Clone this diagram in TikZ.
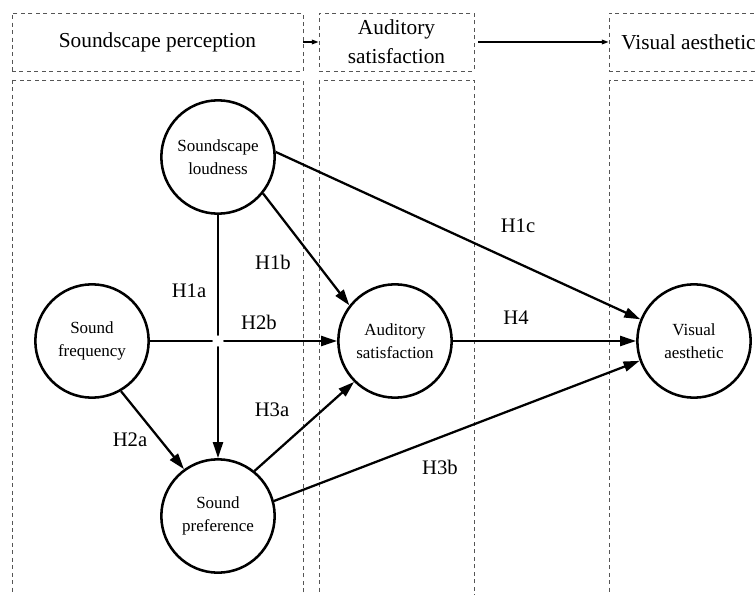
\documentclass[tikz,border=0pt]{standalone}
\usepackage{fontspec}
\setmainfont{Liberation Serif}
\usetikzlibrary{arrows.meta}
\definecolor{dashgray}{RGB}{85,85,85}

\begin{document}
\begin{tikzpicture}[x=0.75pt,y=-0.75pt,
    construct/.style={draw,circle,line width=1.9pt,minimum size=85pt,inner sep=0pt,
        align=center,font=\fontsize{12.75}{17}\selectfont},
    hpath/.style={line width=1.7pt,-{Triangle[length=12pt,width=7.5pt]}},
    hlabel/.style={inner sep=0pt,font=\fontsize{15.5}{18}\selectfont},
    stagebox/.style={draw=dashgray,line width=0.7pt,dash pattern=on 3pt off 2.6pt,
        minimum height=43.5pt,inner sep=0pt,align=center,font=\fontsize{16}{21.5}\selectfont},
    stagecol/.style={draw=dashgray,line width=0.7pt,dash pattern=on 3pt off 2.6pt},
    stagearrow/.style={line width=0.9pt,-{Triangle[length=5pt,width=3.5pt]}}]
    \useasboundingbox (0,0) rectangle (756,595);
    \clip (0,0) rectangle (756,595);
    % stages
    \node [stagebox,minimum width=218.25pt] (st1) at (157.5,42) {Soundscape perception};
    \node [stagebox,minimum width=116.25pt] (st2) at (396.5,42) {Auditory\\satisfaction};
    \node [stagebox,minimum width=119.25pt] (st3) at (688.5,42) {Visual aesthetic};
    \draw [stagearrow] (st1) -- (st2);
    \draw [stagearrow] ([xshift=3pt]st2.east) -- (st3);
    \draw [stagecol] (12,80) rectangle (303,620);
    \draw [stagecol] (319,80) rectangle (474,620);
    \draw [stagecol] (609,80) rectangle (768,620);
    % constructs
    \node [construct] (loud) at (218,157) {Soundscape\\loudness};
    \node [construct] (freq) at (92,341) {Sound\\frequency};
    \node [construct] (pref) at (218,516) {Sound\\preference};
    \node [construct] (aud) at (395,341) {Auditory\\satisfaction};
    \node [construct] (vis) at (694,341) {Visual\\aesthetic};
    % hypotheses
    \draw [hpath] (loud.south) -- (pref.north);
    \draw [hpath] (freq.east) -- (aud.west);
    \coordinate (cross) at (loud.south |- freq.east);
    \fill [white] (cross) circle (4.2pt);
    \draw [hpath] (loud.-39) -- (aud.142);
    \draw [hpath] (loud.5) -- (vis.158);
    \draw [hpath] (freq.-60) -- (pref.126);
    \draw [hpath] (pref.51) -- (aud.225);
    \draw [hpath] (pref.15) -- (vis.200);
    \draw [hpath] (aud.east) -- (vis.west);
    \node [hlabel] (h1a) at (189,291) {H1a};
    \node [hlabel] (h1b) at (273,262) {H1b};
    \node [hlabel] (h1c) at (518,226) {H1c};
    \node [hlabel] (h2a) at (130,440) {H2a};
    \node [hlabel] (h2b) at (259,322) {H2b};
    \node [hlabel] (h3a) at (272,410) {H3a};
    \node [hlabel] (h3b) at (440,467) {H3b};
    \node [hlabel] (h4) at (516,318) {H4};
\end{tikzpicture}
\end{document}
